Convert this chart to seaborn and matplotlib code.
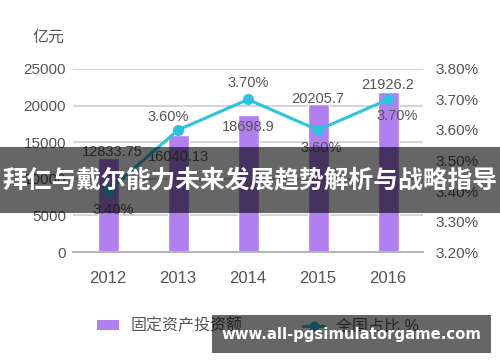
import numpy as np
import pandas as pd
import matplotlib
matplotlib.use("Agg")
import matplotlib.pyplot as plt
import seaborn as sns
from matplotlib.patches import Rectangle, Patch
from matplotlib.lines import Line2D

years = ["2012", "2013", "2014", "2015", "2016"]
invest = [12833.75, 16040.13, 18698.9, 20205.7, 21926.2]
invest_labels = ["12833.75", "16040.13", "18698.9", "20205.7", "21926.2"]
share = [3.40, 3.60, 3.70, 3.60, 3.70]
share_labels = ["3.40%", "3.60%", "3.70%", "3.60%", "3.70%"]
left_ticks = [0, 5000, 10000, 15000, 20000, 25000]
right_ticks = [3.20, 3.30, 3.40, 3.50, 3.60, 3.70, 3.80]
legend_labels = ["固定资产投资额", "全国占比 %"]
unit_label = "亿元"
banner_text = "拜仁与戴尔能力未来发展趋势解析与战略指导"
watermark_text = "www.all-pgsimulatorgame.com"

# label offsets in pixels (layout only)
bar_label_off = [(4, 6), (0, -22), (0, -12), (0, 5), (0, 6.5)]
line_label_off = [(5, -19), (-10, 13), (0, 16), (3, -18), (9, -17)]

sns.set_theme(style="white")
plt.rcParams["font.family"] = ["Liberation Sans", "Noto Sans CJK SC", "DejaVu Sans"]

BAR = "#b07ff0"
LINE = "#2cc3df"
TXT = "#555555"
GRID = "#cccccc"

fig = plt.figure(figsize=(5.0, 3.62), dpi=100)
ax = fig.add_axes([73 / 500, 1 - 252 / 362, 350 / 500, 183 / 362])

df = pd.DataFrame({"year": years, "invest": invest, "share": share})
sns.barplot(data=df, x="year", y="invest", color=BAR, saturation=1, width=0.3, ax=ax, zorder=2)
ax.set_xlim(-0.5, 4.5)
ax.set_ylim(0, 25000)
ax.set_yticks(left_ticks)
ax.set_yticklabels([str(t) for t in left_ticks])
ax.yaxis.grid(True, color=GRID, linewidth=1.2)
ax.set_axisbelow(True)
for s in ["top", "right", "left"]:
    ax.spines[s].set_visible(False)
ax.spines["bottom"].set_color("#b5b5b5")
ax.spines["bottom"].set_linewidth(1.5)
ax.set_xlabel("")
ax.set_ylabel("")
ax.tick_params(axis="y", length=0, pad=5, labelsize=11, labelcolor=TXT)
ax.tick_params(axis="x", length=0, pad=14, labelsize=12, labelcolor=TXT)

for i, (v, lab) in enumerate(zip(invest, invest_labels)):
    dx, dy = bar_label_off[i]
    ax.annotate(lab, (i, v), xytext=(dx, dy), textcoords="offset pixels",
                ha="center", va="center", fontsize=10.5, color=TXT, zorder=5)

ax2 = ax.twinx()
sns.lineplot(x=np.arange(len(years)), y=share, ax=ax2, color=LINE, linewidth=2.2,
             marker="o", markersize=8, markeredgewidth=0, zorder=4)
ax2.set_ylim(3.2, 3.8)
ax2.set_yticks(right_ticks)
ax2.set_yticklabels([f"{t:.2f}%" for t in right_ticks])
for s in ["top", "right", "left", "bottom"]:
    ax2.spines[s].set_visible(False)
ax2.tick_params(axis="y", length=0, pad=9, labelsize=11, labelcolor=TXT)
ax2.grid(False)
ax2.set_ylabel("")

for i, (v, lab) in enumerate(zip(share, share_labels)):
    dx, dy = line_label_off[i]
    ax2.annotate(lab, (i, v), xytext=(dx, dy), textcoords="offset pixels",
                 ha="center", va="center", fontsize=10.5, color=TXT, zorder=5)

fig.text(49 / 500, 1 - 37 / 362, unit_label, ha="center", va="center", fontsize=11.5, color=TXT)

handles = [Patch(facecolor=BAR, edgecolor="none"),
           Line2D([0], [0], color=LINE, linewidth=2.2, marker="o", markersize=6)]
fig.legend(handles, legend_labels, loc="center", bbox_to_anchor=(0.516, 1 - 326 / 362),
           ncol=2, frameon=False, fontsize=11.5, handlelength=1.35, handleheight=0.55,
           handletextpad=0.7, columnspacing=3.8, labelcolor=TXT)

# overlay banner
fig.patches.append(Rectangle((0, 1 - 213 / 362), 1, 66 / 362, transform=fig.transFigure,
                             facecolor="black", alpha=0.6, edgecolor="none", zorder=10))
fig.text(0.5, 1 - 180 / 362, banner_text, ha="center", va="center", color="white",
         fontsize=17.8, fontweight="bold", family=["Noto Sans CJK SC", "DejaVu Sans"], zorder=11)

# watermark box
fig.patches.append(Rectangle((212 / 500, 1 - 353 / 362), 279 / 500, 38 / 362, transform=fig.transFigure,
                             facecolor="black", alpha=0.6, edgecolor="none", zorder=10))
fig.text(351 / 500, 1 - 334 / 362, watermark_text, ha="center", va="center", color="white",
         fontsize=10.7, fontweight="bold", family=["DejaVu Sans"], zorder=11)

fig.savefig("out.png", dpi=100)
